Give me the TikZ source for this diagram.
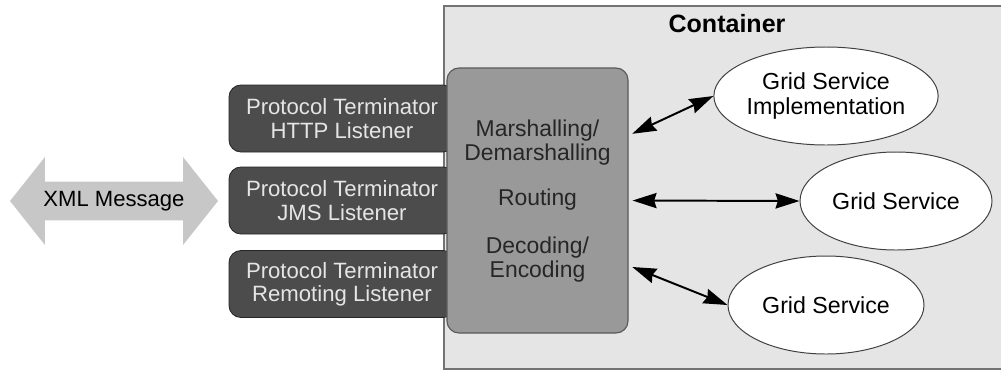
\documentclass[tikz,border=0pt]{standalone}
\usepackage{fontspec}
\setmainfont{Liberation Sans}
\usepackage{xcolor}
\usepackage{tikz}
\usetikzlibrary{shapes}
\usetikzlibrary{arrows.meta}
\tikzset{ container_box/.style = {rectangle, draw=black!55, line width=0.9pt, fill=black!10, minimum width=141.5mm, minimum height=90.75mm} }
\tikzset{ listener/.style = {rectangle, rounded corners=3mm, draw=black!85, line width=0.6pt, fill=black!70, text=white!90!black, align=center, minimum width=56.5mm, minimum height=16.75mm, font=\fontsize{15.75}{16.5}\selectfont} }
\tikzset{ engine/.style = {rectangle, rounded corners=3mm, draw=black!65, line width=0.8pt, fill=black!40, text=black!85, align=center, minimum width=45.25mm, minimum height=66.25mm} }
\tikzset{ engine_text/.style = {align=center, text=black!85, font=\fontsize{16.3}{17}\selectfont} }
\tikzset{ service/.style = {ellipse, draw=black!75, line width=0.7pt, fill=white, align=center, inner sep=0pt, minimum width=49mm, minimum height=24.5mm, font=\fontsize{16.5}{17.5}\selectfont} }
\tikzset{ xml_msg/.style = {double arrow, fill=black!22, double arrow head extend=3.25mm, double arrow tip angle=103, minimum height=52mm, minimum width=22mm, inner sep=0pt, font=\fontsize{15.7}{17}\selectfont} }
\tikzset{ link/.style = {{Stealth[length=6mm,width=3.8mm,inset=0.6mm]}-{Stealth[length=6mm,width=3.8mm,inset=0.6mm]}, line width=1.4pt, shorten <=1mm} }

\begin{document}
\begin{tikzpicture}[x=0.25mm, y=-0.25mm]
    \useasboundingbox (0,0) rectangle (1001,371);
    \node [container_box] (9) at (727,187.5) {};
    \node [font=\fontsize{17.8}{20}\selectfont\bfseries] (10) at (727,24) {Container};
    \node [xml_msg] (0) at (114,201) {XML Message};
    \node [listener] (1) at (342,118.5) {Protocol Terminator\\HTTP Listener};
    \node [listener] (2) at (342,200.5) {Protocol Terminator\\JMS Listener};
    \node [listener] (3) at (342,284) {Protocol Terminator\\Remoting Listener};
    \node [engine] (4) at (537.5,200.5) {};
    \node [engine_text] (5) at (537.5,143) {Marshalling/\\Demarshalling};
    \node [engine_text] (6) at (537.5,200) {Routing};
    \node [engine_text] (7) at (537.5,260) {Decoding/\\Encoding};
    \node [service] (11) at (826,96) {Grid Service\\Implementation};
    \node [service, minimum width=48mm] (12) at (896,201) {Grid Service};
    \node [service] (13) at (826,305) {Grid Service};
    \draw[link] ([yshift=16.25mm]4.east) to (11.west);
    \draw[link] (4.east) to (12.west);
    \draw[link] ([yshift=-16.25mm]4.east) to (13.west);
\end{tikzpicture}
\end{document}
